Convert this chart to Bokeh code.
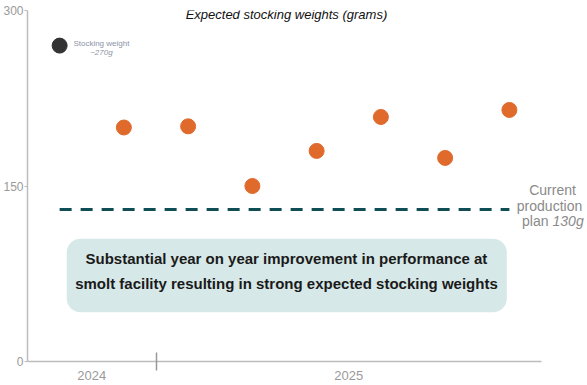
from bokeh.plotting import figure
from bokeh.models import FixedTicker, Label, Range1d
from bokeh.embed import file_html
from bokeh.resources import INLINE

# ---- data ----
years = ["2024", "2025"]
year_counts = [2, 6]
stocked_weight = [270]            # actual stocking weight (first batch)
expected_weights = [200, 201, 150, 180, 209, 174, 215]
plan_weight = 130

FONT = "Liberation Sans"
ORANGE = "#e06a2b"
DARK = "#333333"
TEAL = "#0e4e54"
GREY = "#9a9a9a"
AXIS = "#bdbdbd"

n = sum(year_counts)
idx = list(range(n))

p = figure(frame_width=559, frame_height=351,
           x_range=Range1d(-0.5, n - 0.5 + 0.70), y_range=Range1d(0, 300),
           output_backend="svg", toolbar_location=None,
           min_border=0, min_border_top=10, min_border_right=0)
p.xgrid.visible = False
p.ygrid.visible = False
p.outline_line_color = None
p.background_fill_color = "white"
p.border_fill_color = "white"

# y axis
p.yaxis.ticker = FixedTicker(ticks=[0, 150, 300])
p.yaxis.axis_line_color = AXIS
p.yaxis.axis_line_width = 1.5
p.yaxis.major_tick_line_color = AXIS
p.yaxis.major_tick_in = 0
p.yaxis.major_tick_out = 3
p.yaxis.minor_tick_line_color = None
p.yaxis.major_label_text_color = GREY
p.yaxis.major_label_text_font = FONT
p.yaxis.major_label_text_font_size = "12px"
p.yaxis.major_label_standoff = 1

# x axis: year labels centred on their groups, divider between groups
centers = []
dividers = []
start = 0
for c in year_counts:
    centers.append(start + (c - 1) / 2)
    if start + c < n:
        dividers.append(start + c - 0.5)
    start += c
p.xaxis.ticker = FixedTicker(ticks=centers, minor_ticks=dividers)
p.xaxis.bounds = (-0.5, n - 0.5)
p.xaxis.major_label_overrides = {c: y for c, y in zip(centers, years)}
p.xaxis.axis_line_color = AXIS
p.xaxis.axis_line_width = 1.5
p.xaxis.major_tick_line_color = None
p.xaxis.major_tick_in = 0
p.xaxis.major_tick_out = 0
p.xaxis.minor_tick_line_color = "#999999"
p.xaxis.minor_tick_line_width = 1.5
p.xaxis.minor_tick_in = 9
p.xaxis.minor_tick_out = 9
p.xaxis.major_label_text_color = GREY
p.xaxis.major_label_text_font = FONT
p.xaxis.major_label_text_font_size = "13px"
p.xaxis.major_label_standoff = 0

# plan line
p.line(x=[idx[0], idx[-1]], y=[plan_weight, plan_weight], line_color=TEAL,
       line_width=3, line_dash="12 9")

# callout box
p.quad(left=[0.11], right=[6.96], bottom=[42], top=[105],
       fill_color="#d7e8e8", line_color=None, border_radius=14)

# points
p.scatter(x=idx[:1], y=stocked_weight, size=15, color=DARK)
p.scatter(x=idx[1:], y=expected_weights, size=15, color=ORANGE)

# texts
mid = (n - 1) / 2 + 0.03
p.add_layout(Label(x=mid, y=297, text="Expected stocking weights (grams)",
                   text_align="center", text_baseline="middle",
                   text_font=FONT, text_font_size="13px", text_font_style="italic",
                   text_color="#111111"))
p.add_layout(Label(x=mid, y=88, text="Substantial year on year improvement in performance at",
                   text_align="center", text_baseline="middle",
                   text_font=FONT, text_font_size="15px", text_font_style="bold",
                   text_color="#1a1a1a"))
p.add_layout(Label(x=mid, y=66.5, text="smolt facility resulting in strong expected stocking weights",
                   text_align="center", text_baseline="middle",
                   text_font=FONT, text_font_size="15px", text_font_style="bold",
                   text_color="#1a1a1a"))

p.add_layout(Label(x=0.65, y=271.8, text="Stocking weight", text_align="center",
                   text_baseline="middle", text_font=FONT, text_font_size="8px",
                   text_color="#8c93a8"))
p.add_layout(Label(x=0.65, y=264.2, text="~" + str(stocked_weight[0]) + "g", text_align="center",
                   text_baseline="middle", text_font=FONT, text_font_size="8px",
                   text_font_style="italic", text_color="#8c93a8"))

rx = 7.64
p.add_layout(Label(x=rx, y=147, x_offset=2, text="Current", text_align="center", text_baseline="middle",
                   text_font=FONT, text_font_size="14px", text_color="#8a8a8a"))
p.add_layout(Label(x=rx, y=133.3, x_offset=-1, text="production", text_align="center", text_baseline="middle",
                   text_font=FONT, text_font_size="14px", text_color="#8a8a8a"))
p.add_layout(Label(x=rx, y=119.7, x_offset=-2, text="plan", text_align="right", text_baseline="middle",
                   text_font=FONT, text_font_size="14px", text_color="#8a8a8a"))
p.add_layout(Label(x=rx, y=119.7, x_offset=2, text=str(plan_weight) + "g", text_align="left",
                   text_baseline="middle", text_font=FONT, text_font_size="14px",
                   text_font_style="italic", text_color="#8a8a8a"))

open("out.html", "w").write(file_html(p, INLINE))
